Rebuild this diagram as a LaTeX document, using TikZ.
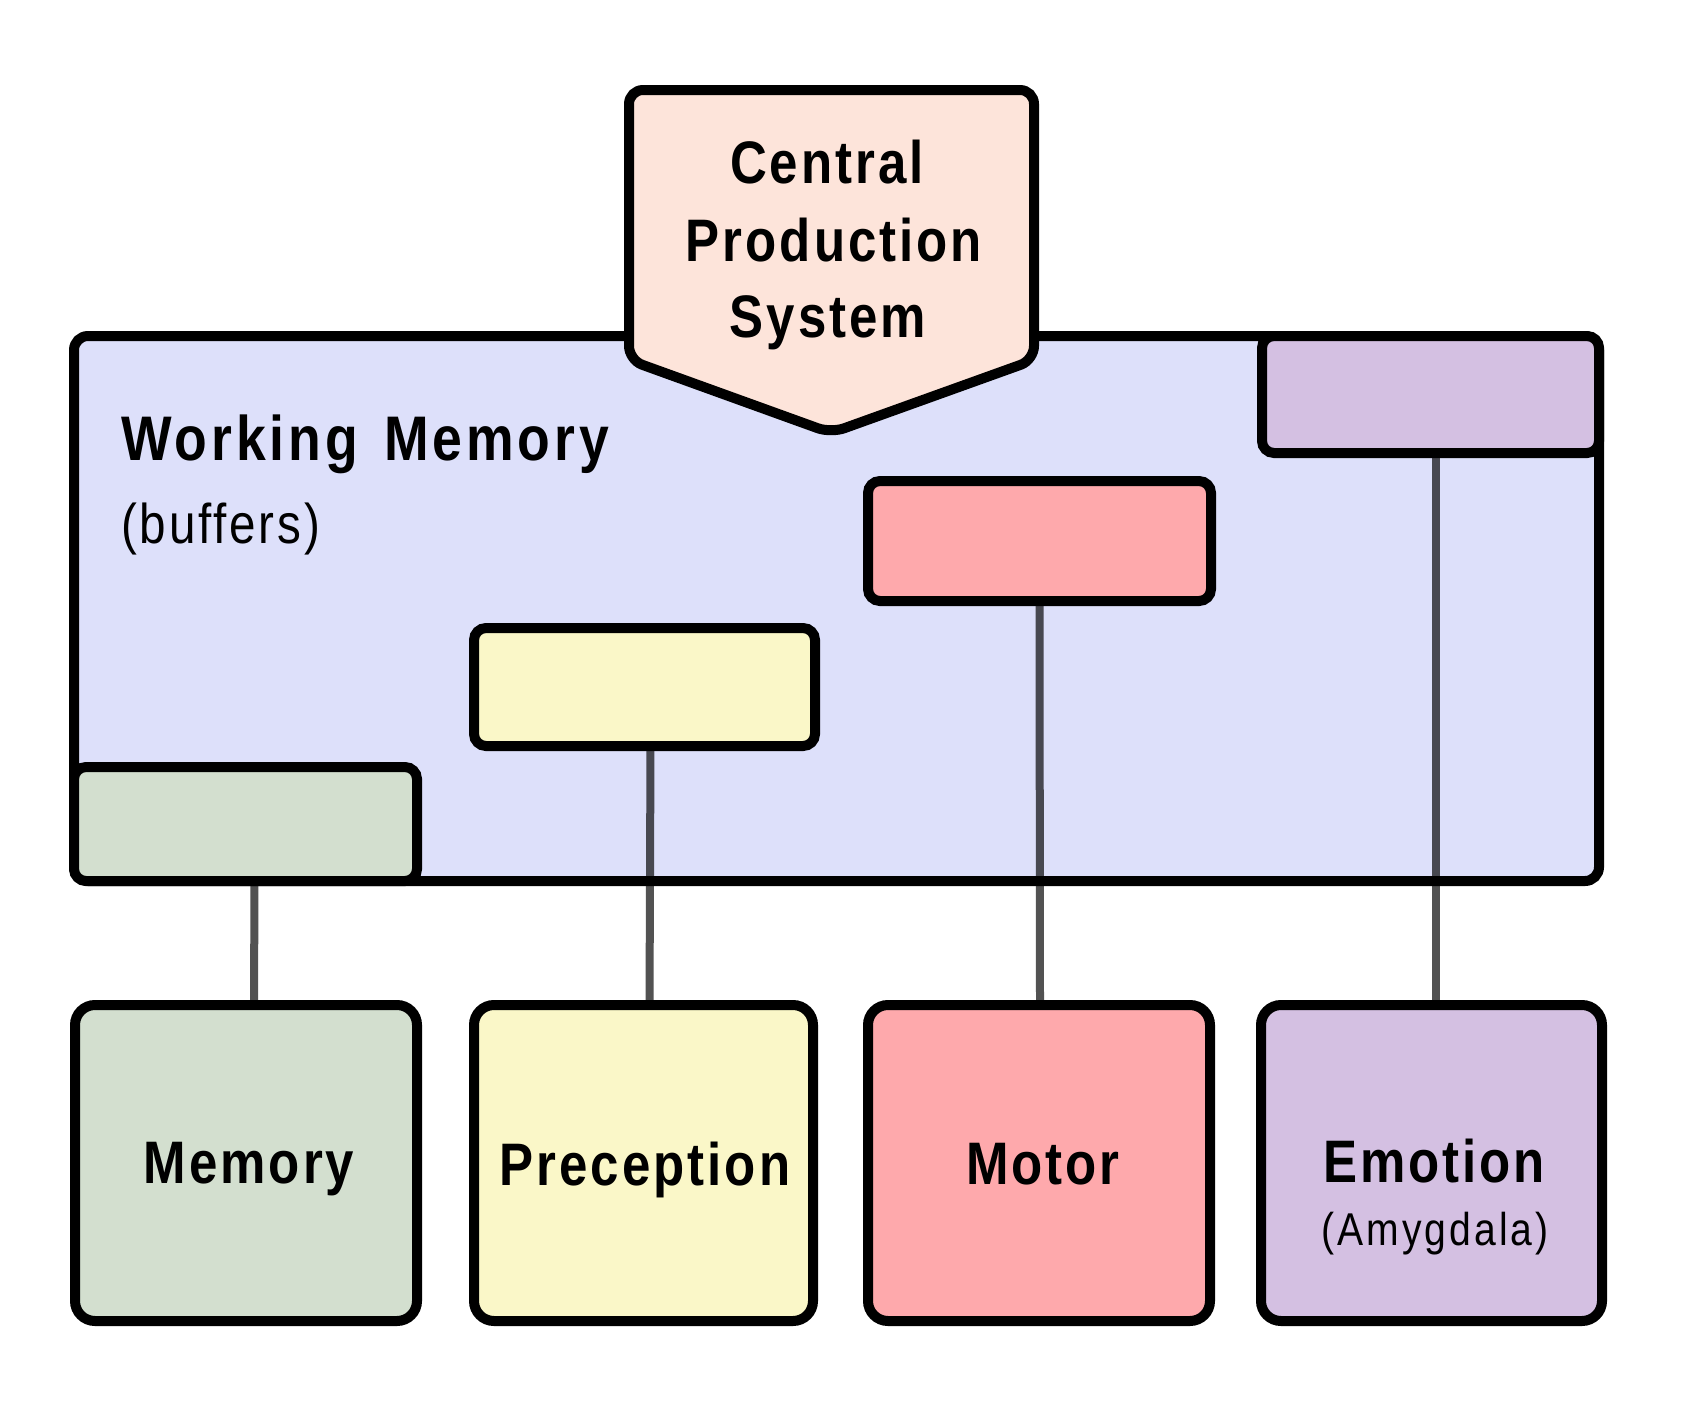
\documentclass[tikz,border=0pt]{standalone}
\usepackage{fontspec}
\newfontfamily\lbl[FakeStretch=0.85,LetterSpace=5]{Liberation Sans}
\newfontfamily\lblwm[FakeStretch=0.85,LetterSpace=6.3]{Liberation Sans}
\newfontfamily\lblwide[FakeStretch=0.85,LetterSpace=6.7]{Liberation Sans}
\definecolor{wmfill}{HTML}{DDE0FA}
\definecolor{cpsfill}{HTML}{FDE4DA}
\definecolor{purplefill}{HTML}{D4C0E2}
\definecolor{pinkfill}{HTML}{FEA9AC}
\definecolor{yellowfill}{HTML}{FAF7C8}
\definecolor{greenfill}{HTML}{D3DFCF}
\tikzset{
  edgebox/.style={draw=black, line width=10pt, inner sep=0pt, outer sep=0pt},
  wmbox/.style={edgebox, rounded corners=14pt, fill=wmfill},
  bufbox/.style={edgebox, rounded corners=12pt},
  modbox/.style={edgebox, rounded corners=20pt, minimum height=316pt},
  link/.style={draw=black, draw opacity=0.68, line width=8pt},
  bigtxt/.style={font=\lbl\bfseries\fontsize{60}{78}\selectfont, inner sep=0pt},
  smalltxt/.style={font=\lbl\fontsize{56}{66}\selectfont, inner sep=0pt},
}
\begin{document}
\begin{tikzpicture}[x=1pt,y=-1pt]
\useasboundingbox (0,0) rectangle (1685,1405);
\fill[white] (0,0) rectangle (1685,1405);

% working memory
\node[wmbox, minimum width=1525pt, minimum height=545pt] (wm) at (836.5,608.5) {};
\node[font=\lblwm\bfseries\fontsize{63}{78}\selectfont, inner sep=0pt, anchor=base west] (wmt) at (121,460) {Working\hspace{7pt} Memory};
\node[smalltxt, anchor=base west] (wms) at (121,543) {(buffers)};

% buffers
\node[bufbox, fill=purplefill, minimum width=337pt, minimum height=117pt] (bufE) at (1430.5,394.5) {};
\node[bufbox, fill=pinkfill, minimum width=343pt, minimum height=120pt] (bufMo) at (1039.5,541) {};
\node[bufbox, fill=yellowfill, minimum width=341pt, minimum height=118pt] (bufP) at (644.5,687) {};
\node[bufbox, fill=greenfill, minimum width=343pt, minimum height=114pt] (bufM) at (245.5,824) {};

% modules
\node[modbox, fill=greenfill, minimum width=342pt] (modM) at (246,1163) {};
\node[modbox, fill=yellowfill, minimum width=339pt] (modP) at (643.5,1163) {};
\node[modbox, fill=pinkfill, minimum width=342pt] (modMo) at (1039,1163) {};
\node[modbox, fill=purplefill, minimum width=341pt] (modE) at (1431.5,1163) {};

\node[bigtxt, anchor=base] (tM) at (249,1183) {Memory};
\node[bigtxt, anchor=base] (tP) at (645,1185) {Preception};
\node[bigtxt, anchor=base] (tMo) at (1043,1184) {Motor};
\node[bigtxt, anchor=base] (tE) at (1434,1182) {Emotion};
\node[font=\lblwide\fontsize{46}{52}\selectfont, inner sep=0pt, anchor=base] (tA) at (1435,1245) {(Amygdala)};

% connectors
\draw[link] ([xshift=9pt]bufM.south) -- ([xshift=8pt]modM.north);
\draw[link] ([xshift=6pt]bufP.south) -- ([xshift=6pt]modP.north);
\draw[link] ([xshift=0pt]bufMo.south) -- ([xshift=1pt]modMo.north);
\draw[link] ([xshift=5pt]bufE.south) -- ([xshift=4pt]modE.north);

% central production system
\draw[line width=10pt, rounded corners=14pt, fill=cpsfill]
  (629,90) -- (1034,90) -- (1034,360) -- (831,433) -- (629,360) -- cycle;
\node[bigtxt, anchor=base] (c1) at (827,183) {Central};
\node[bigtxt, anchor=base] (c2) at (834,261) {Production};
\node[bigtxt, anchor=base] (c3) at (828,337) {System};
\end{tikzpicture}
\end{document}
